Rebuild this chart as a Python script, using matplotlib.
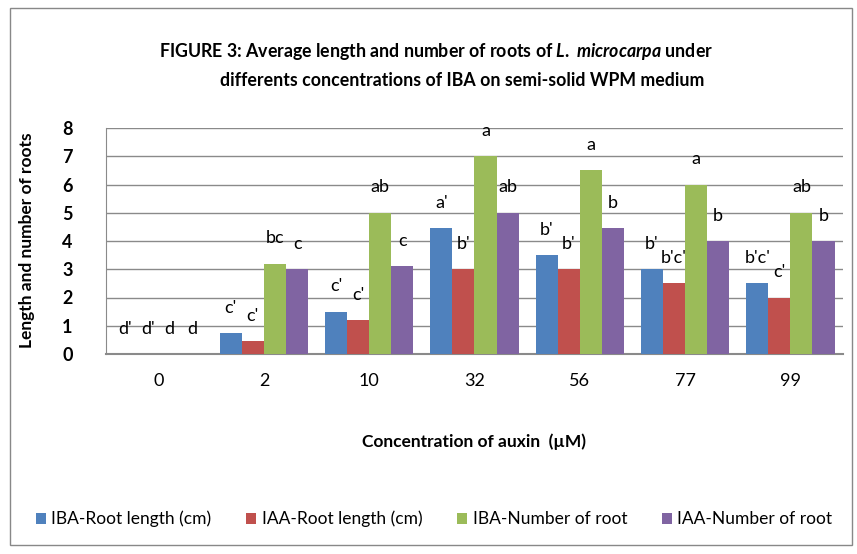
import matplotlib
matplotlib.use("Agg")
import matplotlib.pyplot as plt
import numpy as np
from matplotlib.patches import Rectangle

categories = ["0", "2", "10", "32", "56", "77", "99"]
series_names = ["IBA-Root length (cm)", "IAA-Root length (cm)", "IBA-Number of root", "IAA-Number of root"]
iba_len = [0, 0.73, 1.5, 4.45, 3.5, 3.0, 2.5]
iaa_len = [0, 0.45, 1.2, 3.0, 3.0, 2.5, 2.0]
iba_num = [0, 3.2, 5.0, 7.0, 6.5, 6.0, 5.0]
iaa_num = [0, 3.0, 3.1, 5.0, 4.45, 4.0, 4.0]
lbl_iba_len = ["d'", "c'", "c'", "a'", "b'", "b'", "b'c'"]
lbl_iaa_len = ["d'", "c'", "c'", "b'", "b'", "b'c'", "c'"]
lbl_iba_num = ["d", "bc", "ab", "a", "a", "a", "ab"]
lbl_iaa_num = ["d", "c", "c", "ab", "b", "b", "b"]
colors = ["#4F81BD", "#C0504D", "#9BBB59", "#8064A2"]

plt.rcParams['font.family'] = ['Lato', 'DejaVu Sans']
plt.rcParams['mathtext.fontset'] = 'custom'
plt.rcParams['mathtext.it'] = 'Lato:italic:bold'
plt.rcParams['mathtext.rm'] = 'Lato:bold'

fig = plt.figure(figsize=(8.57, 5.54), dpi=100)
fig.patches.append(Rectangle((10/857, 1-545/554), 842/857, 537/554, transform=fig.transFigure,
                             fill=False, edgecolor="#888888", linewidth=1))
ax = fig.add_axes([106/857, 1-354/554, 737/857, 226/554])

x = np.arange(len(categories))
w = 0.21
data = [iba_len, iaa_len, iba_num, iaa_num]
labels = [lbl_iba_len, lbl_iaa_len, lbl_iba_num, lbl_iaa_num]
for i, (vals, lbls) in enumerate(zip(data, labels)):
    pos = x + (i - 1.5) * w
    ax.bar(pos, vals, width=w, color=colors[i], label=series_names[i], zorder=3)
    for p, v, t in zip(pos, vals, lbls):
        ax.text(p, v + 0.9, t, ha="center", va="center", fontsize=13, zorder=4)

ax.set_xlim(-0.5, len(categories) - 0.5)
ax.set_ylim(0, 8)
ax.set_yticks(range(0, 9))
ax.set_yticklabels([str(i) for i in range(9)], fontsize=13, fontweight="bold")
ax.set_xticks(x)
ax.set_xticklabels(categories, fontsize=13)
ax.tick_params(axis="both", length=0, pad=14)
ax.tick_params(axis="y", pad=24)
ax.yaxis.grid(True, color="#8a8a8a", linewidth=1, zorder=0)
for s in ["top", "right"]:
    ax.spines[s].set_visible(False)
ax.spines["left"].set_color("#8a8a8a")
ax.spines["bottom"].set_color("#8a8a8a")
ax.spines["bottom"].set_linewidth(1.5)

ax.set_xlabel("Concentration of auxin  (µM)", fontsize=12.5, fontweight="bold", labelpad=32)
fig.text(27/857, 1-240/554, "Length and number of roots", rotation=90, ha="center", va="center",
         fontsize=12.5, fontweight="bold")

fig.text(436/857, 1-52/554, r"FIGURE 3: Average length and number of roots of $\it{L.\ microcarpa}$ under",
         ha="center", va="center", fontsize=12.8, fontweight="bold")
fig.text(462/857, 1-80/554, "differents concentrations of IBA on semi-solid WPM medium",
         ha="center", va="center", fontsize=12.8, fontweight="bold")

fig.legend(loc="center", bbox_to_anchor=(434/857, 1-519/554), ncol=4, frameon=False,
           fontsize=12.5, handlelength=0.6, handleheight=0.6, handletextpad=0.3, columnspacing=2.0)

fig.savefig("out.png", dpi=100)
